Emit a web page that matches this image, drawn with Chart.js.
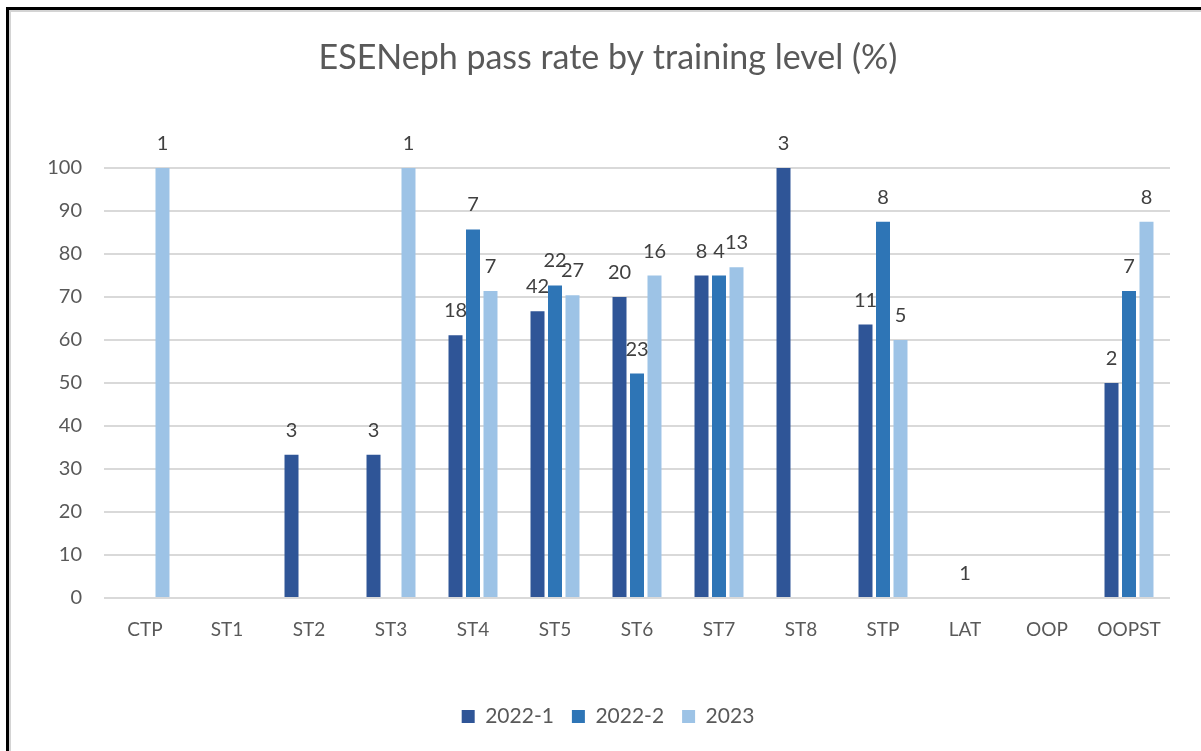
<!DOCTYPE html>
<html><head><meta charset="utf-8">
<script src="https://cdn.jsdelivr.net/npm/chart.js@4"></script>
<style>html,body{margin:0;padding:0;background:#fff}#wrap{width:1201px;height:751px;position:relative}</style>
</head><body><div id="wrap"><canvas id="c" width="1201" height="751"></canvas></div>
<script>
const categories = ['CTP','ST1','ST2','ST3','ST4','ST5','ST6','ST7','ST8','STP','LAT','OOP','OOPST'];
const seriesNames = ['2022-1','2022-2','2023'];
const rate2022_1 = [null,null,33.3,33.3,61.1,66.7,70,75,100,63.6,null,null,50];
const rate2022_2 = [null,null,null,null,85.7,72.7,52.2,75,null,87.5,0,null,71.4];
const rate2023   = [100,null,null,100,71.4,70.4,75,76.9,null,60,null,null,87.5];
const n2022_1 = [null,null,3,3,18,42,20,8,3,11,null,null,2];
const n2022_2 = [null,null,null,null,7,22,23,4,null,8,1,null,7];
const n2023   = [1,null,null,1,7,27,16,13,null,5,null,null,8];
const yMin = 0, yMax = 100, yStep = 10;
const colors = ['#2F5597','#2E75B6','#9DC3E6'];

const FONT = 'Lato, "Open Sans", sans-serif';
const counts = [n2022_1, n2022_2, n2023];

const framePlugin = {
  id: 'frame',
  beforeDraw(chart) {
    const ctx = chart.ctx;
    ctx.save();
    ctx.fillStyle = '#fff';
    ctx.fillRect(0, 0, chart.width, chart.height);
    ctx.fillStyle = '#d4d4d4';
    ctx.fillRect(9, 10, chart.width - 9, 2);
    ctx.fillRect(9, 10, 2, chart.height - 10);
    ctx.fillStyle = '#000';
    ctx.fillRect(6, 7, chart.width - 6, 3);
    ctx.fillRect(6, 7, 3, chart.height - 7);
    ctx.restore();
  }
};

const countLabels = {
  id: 'countLabels',
  afterDatasetsDraw(chart) {
    const ctx = chart.ctx;
    ctx.save();
    ctx.font = '20px ' + FONT;
    ctx.fillStyle = '#404040';
    ctx.textAlign = 'center';
    ctx.textBaseline = 'alphabetic';
    chart.data.datasets.forEach((ds, di) => {
      const meta = chart.getDatasetMeta(di);
      meta.data.forEach((el, i) => {
        const n = counts[di][i];
        if (n === null || ds.data[i] === null) return;
        ctx.fillText(String(n), el.x, el.y - 18);
      });
    });
    ctx.restore();
  }
};

new Chart(document.getElementById('c'), {
  type: 'bar',
  data: {
    labels: categories,
    datasets: [
      { label: seriesNames[0], data: rate2022_1, backgroundColor: colors[0] },
      { label: seriesNames[1], data: rate2022_2, backgroundColor: colors[1] },
      { label: seriesNames[2], data: rate2023, backgroundColor: colors[2] }
    ]
  },
  options: {
    responsive: false,
    animation: false,
    devicePixelRatio: 1,
    categoryPercentage: 0.64,
    barPercentage: 0.8,
    layout: { padding: { left: 46, right: 31, top: 0, bottom: 14 } },
    plugins: {
      title: {
        display: true,
        text: 'ESENeph pass rate by training level (%)',
        color: '#595959',
        font: { family: FONT, size: 34, weight: 'normal' },
        padding: { top: 37.6, bottom: 89.6 }
      },
      legend: {
        position: 'bottom',
        labels: {
          color: '#595959',
          font: { family: FONT, size: 21 },
          boxWidth: 13, boxHeight: 13,
          padding: 18
        }
      },
      tooltip: { enabled: false }
    },
    scales: {
      x: {
        grid: { display: false },
        border: { display: false },
        ticks: { color: '#595959', font: { family: FONT, size: 19 }, padding: 12 },
        afterFit(scale) { scale.height = 90; }
      },
      y: {
        min: yMin, max: yMax,
        ticks: { stepSize: yStep, color: '#595959', font: { family: FONT, size: 20 }, padding: 22 },
        grid: { color: '#d9d9d9', lineWidth: 2, drawTicks: false },
        border: { display: false },
        afterFit(scale) { scale.width = 58; }
      }
    }
  },
  plugins: [framePlugin, countLabels]
});
</script>
</body></html>
